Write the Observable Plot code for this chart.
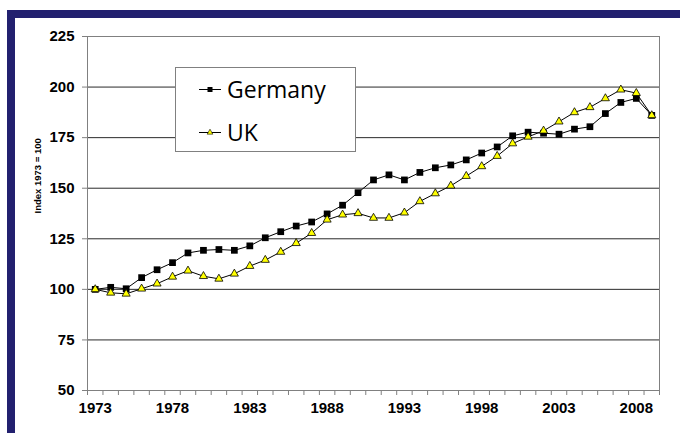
<!DOCTYPE html>
<html><head><meta charset="utf-8">
<script src="https://cdn.jsdelivr.net/npm/d3@7"></script>
<script src="https://cdn.jsdelivr.net/npm/@observablehq/plot@0.6"></script>
<style>
html,body{margin:0;padding:0;background:#fff;overflow:hidden;}
#chart{width:680px;height:433px;}
#chart svg{display:block;}
</style></head><body>
<div id="chart"></div>
<script>
const years = [1973,1974,1975,1976,1977,1978,1979,1980,1981,1982,1983,1984,1985,1986,1987,1988,1989,1990,1991,1992,1993,1994,1995,1996,1997,1998,1999,2000,2001,2002,2003,2004,2005,2006,2007,2008,2009];
const germany = [100,101,100.3,105.8,109.7,113.2,118,119.3,119.7,119.3,121.5,125.5,128.5,131.3,133.3,137.3,141.6,147.8,154.1,156.6,154.1,157.8,160.1,161.5,164,167.4,170.4,175.9,177.7,177.2,176.7,179.2,180.4,186.9,192.4,194.4,186];
const uk = [100,98.3,97.8,100.3,102.8,106.2,109.2,106.5,105.2,107.7,111.5,114.5,118.5,122.8,127.8,134.4,136.9,137.6,135.3,135.3,137.9,143.5,147.4,151.2,156,160.8,165.9,172.1,175.4,178.4,182.9,187.5,190,194.4,198.7,197,186];
const yTicks = [50,75,100,125,150,175,200,225];
const gridValues = [75,100,125,150,175,200];
const xLabelYears = [1973,1978,1983,1988,1993,1998,2003,2008];
const seriesNames = ["Germany","UK"];
const yLabel = "Index 1973 = 100";

const gData = years.map((y,i)=>({year:y, value:germany[i]}));
const uData = years.map((y,i)=>({year:y, value:uk[i]}));
const boundaries = years.map(y=>y-0.5).concat([years[years.length-1]+0.5]);

const font = "'Liberation Sans', Arial, sans-serif";
const plot = Plot.plot({
  width: 680, height: 433,
  marginLeft: 87, marginRight: 21, marginTop: 36, marginBottom: 43,
  style: {background: "white", fontFamily: font},
  x: {domain: [1972.5, 2009.5]},
  y: {domain: [50, 225]},
  marks: [
    Plot.ruleY(gridValues, {stroke: "#2a2a2a", strokeWidth: 1}),
    Plot.frame({stroke: "#808080", strokeWidth: 1}),
    Plot.axisX(boundaries, {tickSize: 5, tickFormat: () => "", stroke: "#808080", label: null}),
    Plot.axisX(xLabelYears, {tickSize: 0, tickPadding: 12, tickFormat: d => String(d), fontSize: 15, fontWeight: "bold", fill: "black", label: null}),
    Plot.axisY(yTicks, {tickSize: 5, tickPadding: 8, stroke: "#808080", fill: "black", fontSize: 15, fontWeight: "bold", label: null}),
    Plot.text([yLabel], {frameAnchor: "left", rotate: -90, dx: -50, fontSize: 9.5, fontWeight: "bold", fill: "black"}),
    Plot.line(gData, {x: "year", y: "value", stroke: "black", strokeWidth: 1}),
    Plot.line(uData, {x: "year", y: "value", stroke: "black", strokeWidth: 1}),
    Plot.dot(gData, {x: "year", y: "value", symbol: "square", r: 3.8, fill: "black", stroke: "none"}),
    Plot.dot(uData, {x: "year", y: "value", symbol: "triangle", r: 3, fill: "#ffff00", stroke: "black", strokeWidth: 0.8})
  ]
});
document.getElementById("chart").appendChild(plot);

const svg = d3.select(plot);
// navy frame (top and left bars)
svg.append("rect").attr("x", 7).attr("y", 10).attr("width", 673).attr("height", 8).attr("fill", "#22206f");
svg.append("rect").attr("x", 7).attr("y", 10).attr("width", 8).attr("height", 423).attr("fill", "#22206f");

// Legend
const lg = svg.append("g");
lg.append("rect").attr("x", 175.5).attr("y", 67.5).attr("width", 180).attr("height", 84)
  .attr("fill", "white").attr("stroke", "#808080");
const entries = [
  {name: seriesNames[0], y: 89.5, sym: "square"},
  {name: seriesNames[1], y: 132.5, sym: "triangle"}
];
entries.forEach(e => {
  lg.append("line").attr("x1", 199).attr("x2", 221).attr("y1", e.y).attr("y2", e.y).attr("stroke", "black");
  if (e.sym === "square") {
    lg.append("rect").attr("x", 207.5).attr("y", e.y - 2.5).attr("width", 5).attr("height", 5).attr("fill", "black");
  } else {
    lg.append("path").attr("d", d3.symbol(d3.symbolTriangle, 14)()).attr("transform", `translate(210,${e.y})`)
      .attr("fill", "#ffff00").attr("stroke", "black").attr("stroke-width", 0.6);
  }
  lg.append("text").attr("x", 227).attr("y", e.y).attr("dy", "0.36em").attr("text-anchor", "start")
    .attr("font-family", "'Open Sans', sans-serif")
    .attr("font-size", 23).attr("fill", "black").text(e.name);
});
</script>
</body></html>
